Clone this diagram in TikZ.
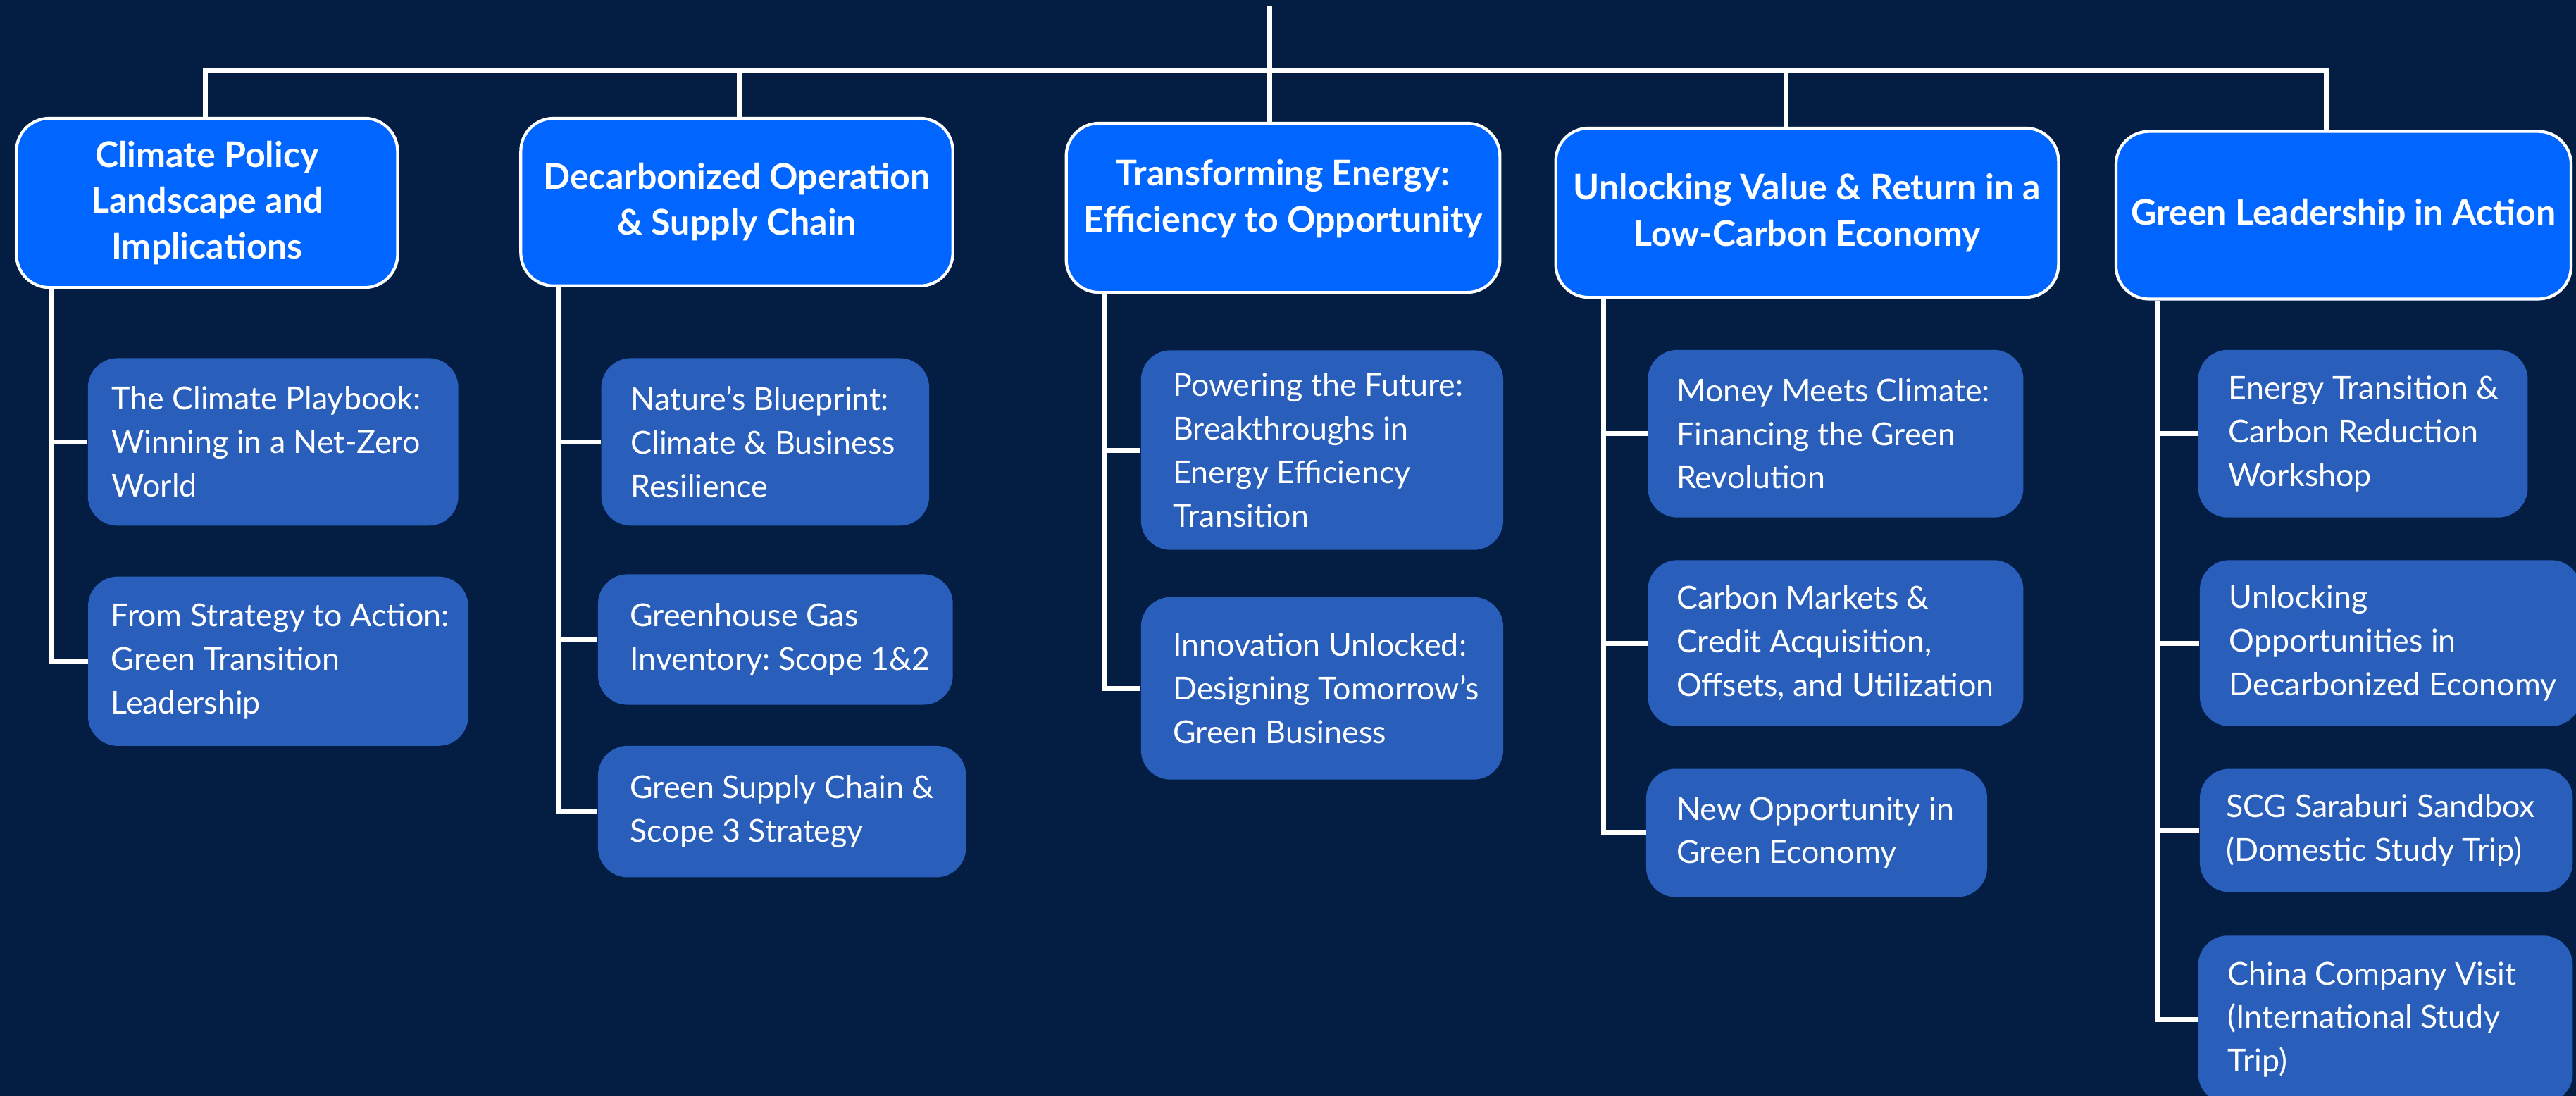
\documentclass[tikz,border=0pt]{standalone}
\usepackage{fontspec}
\setmainfont{Lato}
\definecolor{bg}{HTML}{031E42}
\definecolor{hdr}{HTML}{0066FF}
\definecolor{sub}{HTML}{295EBA}
\tikzset{
  hdrbox/.style={draw=white, line width=1.8pt, fill=hdr, rounded corners=20pt, text=white,
    font=\fontsize{21.5}{28}\selectfont\bfseries\frenchspacing, align=center, inner sep=0pt},
  hdrtext/.style={text=white, font=\fontsize{21.5}{28}\selectfont\bfseries\frenchspacing, align=center, inner sep=0pt},
  subbox/.style={fill=sub, rounded corners=18pt, inner sep=0pt},
  subtext/.style={text=white, font=\fontsize{19.2}{26.5}\selectfont\frenchspacing, align=left,
    inner sep=0pt, anchor=west},
  conn/.style={draw=white, line width=3pt, line join=miter}
}
\begin{document}
\begin{tikzpicture}[x=1pt,y=-1pt]
\fill[bg] (0,0) rectangle (1568,667);
\clip (0,0) rectangle (1568,667);
% headers
\node[hdrbox, minimum width=232pt, minimum height=103pt] (h1) at (126,123.5) {Climate Policy\\Landscape and\\Implications};
\node[hdrbox, minimum width=263pt, minimum height=102pt] (h2) at (448.5,123) {Decarbonized Operation\\\& Supply Chain};
\node[hdrbox, minimum width=264pt, minimum height=103pt] (h3) at (781,126.5) {};
\node[hdrtext] (h3t) at (781,121) {Transforming Energy:\\Efficiency to Opportunity};
\node[hdrbox, minimum width=306pt, minimum height=103pt] (h4) at (1100,129.5) {Unlocking Value \& Return in a\\Low-Carbon Economy};
\node[hdrbox, minimum width=277pt, minimum height=102pt] (h5) at (1426.5,131) {Green Leadership in Action};
% children (boxes)
\node[subbox, minimum width=225.5pt, minimum height=102pt] (c1a) at (166.25,269) {};
\node[subbox, minimum width=231.4pt, minimum height=103pt] (c1b) at (169.3,402.5) {};
\node[subbox, minimum width=199.6pt, minimum height=102pt] (c2a) at (465.8,269) {};
\node[subbox, minimum width=216pt, minimum height=79.4pt] (c2b) at (472,389.3) {};
\node[subbox, minimum width=224pt, minimum height=80pt] (c2c) at (476,494) {};
\node[subbox, minimum width=220.5pt, minimum height=121.5pt] (c3a) at (804.75,274) {};
\node[subbox, minimum width=220.5pt, minimum height=111pt] (c3b) at (804.75,419) {};
\node[subbox, minimum width=228.6pt, minimum height=102pt] (c4a) at (1117.3,264) {};
\node[subbox, minimum width=228.6pt, minimum height=101pt] (c4b) at (1117.3,391.5) {};
\node[subbox, minimum width=207.6pt, minimum height=78pt] (c4c) at (1105.8,507) {};
\node[subbox, minimum width=200.6pt, minimum height=102pt] (c5a) at (1438.3,264) {};
\node[subbox, minimum width=232pt, minimum height=101pt] (c5b) at (1455,391.5) {};
\node[subbox, minimum width=227pt, minimum height=75pt] (c5c) at (1452.5,505.5) {};
\node[subbox, minimum width=228pt, minimum height=102pt] (c5d) at (1452,620.5) {};
% children (texts)
\node[subtext] (t1a) at ([xshift=14.5pt]c1a.west) {The Climate Playbook:\\Winning in a Net-Zero\\World};
\node[subtext] (t1b) at ([xshift=14pt]c1b.west) {From Strategy to Action:\\Green Transition\\Leadership};
\node[subtext] (t2a) at ([xshift=18pt]c2a.west) {Nature’s Blueprint:\\Climate \& Business\\Resilience};
\node[subtext] (t2b) at ([xshift=19.5pt]c2b.west) {Greenhouse Gas\\Inventory: Scope 1\&2};
\node[subtext] (t2c) at ([xshift=19.5pt]c2c.west) {Green Supply Chain \&\\Scope 3 Strategy};
\node[subtext] (t3a) at ([xshift=19.5pt]c3a.west) {Powering the Future:\\Breakthroughs in\\Energy Efficiency\\Transition};
\node[subtext] (t3b) at ([xshift=19.5pt]c3b.west) {Innovation Unlocked:\\Designing Tomorrow’s\\Green Business};
\node[subtext] (t4a) at ([xshift=17.5pt]c4a.west) {Money Meets Climate:\\Financing the Green\\Revolution};
\node[subtext] (t4b) at ([xshift=17.5pt]c4b.west) {Carbon Markets \&\\Credit Acquisition,\\Offsets, and Utilization};
\node[subtext] (t4c) at ([xshift=18.5pt]c4c.west) {New Opportunity in\\Green Economy};
\node[subtext] (t5a) at ([xshift=18.5pt]c5a.west) {Energy Transition \&\\Carbon Reduction\\Workshop};
\node[subtext] (t5b) at ([xshift=18pt]c5b.west) {Unlocking\\Opportunities in\\Decarbonized Economy};
\node[subtext] (t5c) at ([xshift=16pt]c5c.west) {SCG Saraburi Sandbox\\(Domestic Study Trip)};
\node[subtext] (t5d) at ([xshift=18pt]c5d.west) {China Company Visit\\(International Study\\Trip)};
% connector coordinates
\coordinate (root) at (772.7,4);
\coordinate (d1) at (125,43);
\coordinate (d2) at (450,43);
\coordinate (d3) at (772.7,43);
\coordinate (d4) at (1087,43);
\coordinate (d5) at (1416,43);
\coordinate (sp1) at (31.5,0);
\coordinate (sp2) at (340,0);
\coordinate (sp3) at (672.7,0);
\coordinate (sp4) at (976,0);
\coordinate (sp5) at (1313.7,0);
% top tree
\draw[conn] (root) -- (d3);
\draw[conn] (h1.north -| d1) -- (d1) -- (d5) -- (h5.north -| d5);
\draw[conn] (d2) -- (h2.north -| d2);
\draw[conn] (d3) -- (h3.north -| d3);
\draw[conn] (d4) -- (h4.north -| d4);
% spines
\draw[conn] (h1.south -| sp1) |- (c1b.west);
\draw[conn] (c1a.west -| sp1) -- (c1a.west);
\draw[conn] (h2.south -| sp2) |- (c2c.west);
\draw[conn] (c2a.west -| sp2) -- (c2a.west);
\draw[conn] (c2b.west -| sp2) -- (c2b.west);
\draw[conn] (h3.south -| sp3) |- (c3b.west);
\draw[conn] (c3a.west -| sp3) -- (c3a.west);
\draw[conn] (h4.south -| sp4) |- (c4c.west);
\draw[conn] (c4a.west -| sp4) -- (c4a.west);
\draw[conn] (c4b.west -| sp4) -- (c4b.west);
\draw[conn] (h5.south -| sp5) |- (c5d.west);
\draw[conn] (c5a.west -| sp5) -- (c5a.west);
\draw[conn] (c5b.west -| sp5) -- (c5b.west);
\draw[conn] (c5c.west -| sp5) -- (c5c.west);
\end{tikzpicture}
\end{document}
